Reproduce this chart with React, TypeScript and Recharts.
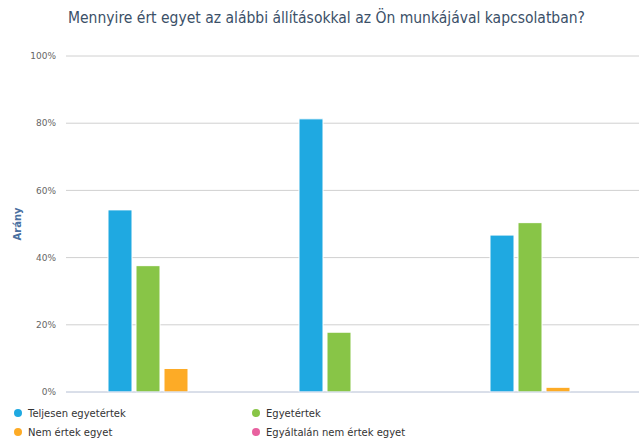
import React from "react";
import { BarChart, Bar, XAxis, YAxis, CartesianGrid } from "recharts";

const categories = ["Állítás 1", "Állítás 2", "Állítás 3"];
const teljesen = [54.2, 81.3, 46.7];
const egyetertek = [37.6, 17.8, 50.4];
const nemErtek = [7.0, 0, 1.4];
const egyaltalan = [0, 0, 0];
const yTicks = [0, 20, 40, 60, 80, 100];

const series = [
  { key: "teljesen", name: "Teljesen egyetértek", color: "#1fa9e1" },
  { key: "egyetertek", name: "Egyetértek", color: "#88c547" },
  { key: "nemErtek", name: "Nem értek egyet", color: "#fdab26" },
  { key: "egyaltalan", name: "Egyáltalán nem értek egyet", color: "#e8619f" },
];

const data = categories.map((name, i) => ({
  name,
  teljesen: teljesen[i],
  egyetertek: egyetertek[i],
  nemErtek: nemErtek[i],
  egyaltalan: egyaltalan[i],
}));

const font = "'DejaVu Sans', sans-serif";

export default function App() {
  return (
    <div
      style={{
        position: "absolute",
        left: 0,
        top: 0,
        width: 639,
        height: 439,
        background: "#fff",
        fontFamily: font,
      }}
    >
      <div
        style={{
          position: "absolute",
          top: 9,
          left: 0,
          width: 653,
          textAlign: "center",
          fontSize: 15.5,
          fontFamily: "'DejaVu Sans Condensed', 'DejaVu Sans', sans-serif",
          fontStretch: "condensed",
          color: "#3b5068",
          whiteSpace: "nowrap",
        }}
      >
        Mennyire ért egyet az alábbi állításokkal az Ön munkájával kapcsolatban?
      </div>

      {/* y axis title */}
      <div
        style={{
          position: "absolute",
          left: 17,
          top: 224,
          transform: "translate(-50%, -50%) rotate(-90deg)",
          fontSize: 10,
          fontWeight: "bold",
          color: "#4a6fa0",
          whiteSpace: "nowrap",
        }}
      >
        Arány
      </div>

      <BarChart
        width={639}
        height={439}
        data={data}
        margin={{ top: 56, right: 0, bottom: 0, left: 0 }}
        barSize={24}
        barGap={4}
      >
        <CartesianGrid vertical={false} stroke="#d0d0d0" />
        <XAxis
          dataKey="name"
          height={47}
          tick={false}
          axisLine={{ stroke: "#ccd6eb" }}
          tickLine={{ stroke: "#ccd6eb" }}
          tickSize={8}
        />
        <YAxis
          width={66}
          domain={[0, 100]}
          ticks={yTicks}
          tickFormatter={(v) => `${v}%`}
          axisLine={false}
          tickLine={false}
          tickMargin={4}
          tick={{ fontSize: 9, fill: "#666", fontFamily: font }}
        />
        {series.map((s) => (
          <Bar
            key={s.key}
            dataKey={s.key}
            name={s.name}
            fill={s.color}
            stroke="#fff"
            strokeWidth={1}
            isAnimationActive={false}
          />
        ))}
      </BarChart>

      {/* legend */}
      <div
        style={{
          position: "absolute",
          left: 14,
          top: 405,
          display: "grid",
          gridTemplateColumns: "238px 238px",
          rowGap: 3,
          fontSize: 10,
          color: "#333",
        }}
      >
        {series.map((s) => (
          <div key={s.key} style={{ display: "flex", alignItems: "center", height: 16 }}>
            <span
              style={{
                display: "inline-block",
                width: 8,
                height: 8,
                borderRadius: "50%",
                background: s.color,
                marginRight: 6,
              }}
            />
            {s.name}
          </div>
        ))}
      </div>
    </div>
  );
}
